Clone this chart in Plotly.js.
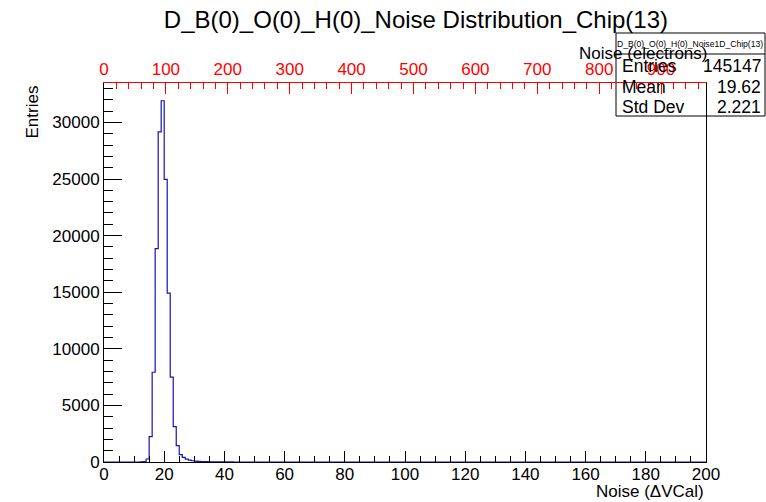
<!DOCTYPE html>
<html>
<head>
<meta charset="utf-8">
<script src="https://cdn.plot.ly/plotly-3.0.1.min.js"></script>
<style>
  html, body { margin: 0; padding: 0; background: #fff; }
  #chart { width: 766px; height: 502px; }
</style>
</head>
<body>
<div id="chart"></div>
<script>
// Histogram: 200 bins of width 1 on [0, 200] (ΔVCal); counts per bin (bins not listed are 0)
const binWidth = 1;
const nBins = 200;
const counts = [
  0, 0, 0, 0, 0, 0, 0, 0, 0, 0,          // 0-9
  0, 0, 5, 30, 265, 2240, 7930, 18850, 29170, 31910, // 10-19
  24960, 14920, 7490, 3120, 1440, 650, 400, 250, 160, 110, // 20-29
  80, 60, 45, 35, 25, 20, 14, 10, 8, 6,  // 30-39
  5, 4, 3, 2, 2, 1, 1, 1, 0, 0           // 40-49
];
const titleText = "D_B(0)_O(0)_H(0)_Noise Distribution_Chip(13)";
const statsName = "D_B(0)_O(0)_H(0)_Noise1D_Chip(13)";
const statsLabels = ["Entries", "Mean", "Std Dev"];
const statsValues = ["145147", "19.62", "2.221"];
const xTitle = "Noise (\u0394VCal)";
const x2Title = "Noise (electrons)";
const yTitle = "Entries";
const xRange = [0, 200];
const x2Range = [0, 972.6];
const yRange = [0, 33480];

const xs = [], ys = [];
for (let k = 0; k < nBins; k++) {
  xs.push(k * binWidth);
  ys.push(k < counts.length ? counts[k] : 0);
}
xs.push(nBins * binWidth); ys.push(0);

const font = "Liberation Sans, Arial, Helvetica, sans-serif";

const traces = [
  {
    x: xs, y: ys, type: "scatter", mode: "lines",
    line: { shape: "hv", color: "#1414b4", width: 1.2 },
    hoverinfo: "skip", showlegend: false
  },
  {
    x: x2Range, y: [0, 0], xaxis: "x2", type: "scatter", mode: "lines",
    line: { width: 0 }, opacity: 0, hoverinfo: "skip", showlegend: false
  }
];

const annotations = [
  { text: xTitle, xref: "paper", yref: "paper", x: 1.0, y: -(491 - 462) / 379, xanchor: "right", yanchor: "middle",
    showarrow: false, font: { family: font, size: 17, color: "#000" } },
  { text: x2Title, xref: "paper", yref: "paper", x: 1.006, y: 1.078, xanchor: "right", yanchor: "middle",
    showarrow: false, font: { family: font, size: 17, color: "#000" } },
  { text: yTitle, xref: "paper", yref: "paper", x: -0.118, y: 1.0, xanchor: "center", yanchor: "top",
    textangle: -90, showarrow: false, font: { family: font, size: 17, color: "#000" } },
  { text: statsName, xref: "paper", yref: "paper", x: (690 - 104) / 602, y: (462 - 44) / 379,
    xanchor: "center", yanchor: "middle", showarrow: false, font: { family: font, size: 8.6, color: "#000" } }
];
const rowY = [66, 87, 107];
for (let i = 0; i < statsLabels.length; i++) {
  annotations.push({ text: statsLabels[i], xref: "paper", yref: "paper",
    x: (620 - 104) / 602, y: (462 - rowY[i]) / 379, xanchor: "left", yanchor: "middle",
    showarrow: false, font: { family: font, size: 17.5, color: "#000" } });
  annotations.push({ text: statsValues[i], xref: "paper", yref: "paper",
    x: (763 - 104) / 602, y: (462 - rowY[i]) / 379, xanchor: "right", yanchor: "middle",
    showarrow: false, font: { family: font, size: 17.5, color: "#000" } });
}

const layout = {
  width: 766, height: 502,
  margin: { l: 104, r: 60, t: 83, b: 40 },
  paper_bgcolor: "#fff", plot_bgcolor: "#fff",
  title: { text: titleText, x: 0.543, xanchor: "center", y: 0.96, yanchor: "middle",
           font: { family: font, size: 24, color: "#000" } },
  xaxis: {
    range: xRange, dtick: 20, tick0: 0, ticks: "inside", ticklen: 11, tickwidth: 1, tickcolor: "#000",
    showline: true, linecolor: "#000", linewidth: 1, showgrid: false, zeroline: false,
    ticklabelstandoff: -3,
    tickfont: { family: font, size: 17, color: "#000" },
    minor: { dtick: 5, ticks: "inside", ticklen: 6, tickcolor: "#000", showgrid: false }
  },
  xaxis2: {
    range: x2Range, overlaying: "x", side: "top", anchor: "y",
    dtick: 100, tick0: 0, ticks: "inside", ticklen: 11, tickwidth: 1, tickcolor: "#ff0000",
    showline: true, linecolor: "#ff0000", linewidth: 1, showgrid: false, zeroline: false,
    tickfont: { family: font, size: 17, color: "#ff0000" },
    minor: { dtick: 20, ticks: "inside", ticklen: 6, tickcolor: "#ff0000", showgrid: false }
  },
  yaxis: {
    range: yRange, dtick: 5000, tick0: 0, ticks: "inside", ticklen: 18, tickwidth: 1, tickcolor: "#000",
    tickformat: "d", showline: true, linecolor: "#000", linewidth: 1, mirror: true,
    showgrid: false, zeroline: false,
    tickfont: { family: font, size: 17, color: "#000" },
    minor: { dtick: 1000, ticks: "inside", ticklen: 9, tickcolor: "#000", showgrid: false }
  },
  shapes: [
    { type: "rect", xref: "paper", yref: "paper", layer: "below",
      x0: (616 - 104) / 602, x1: (765 - 104) / 602, y0: (462 - 116) / 379, y1: (462 - 33) / 379,
      line: { color: "#000", width: 1 }, fillcolor: "#fff" },
    { type: "line", xref: "paper", yref: "paper", layer: "below",
      x0: (616 - 104) / 602, x1: (765 - 104) / 602, y0: (462 - 54) / 379, y1: (462 - 54) / 379,
      line: { color: "#000", width: 1 } }
  ],
  annotations: annotations,
  showlegend: false
};

Plotly.newPlot("chart", traces, layout, { displayModeBar: false, staticPlot: true });
</script>
</body>
</html>
